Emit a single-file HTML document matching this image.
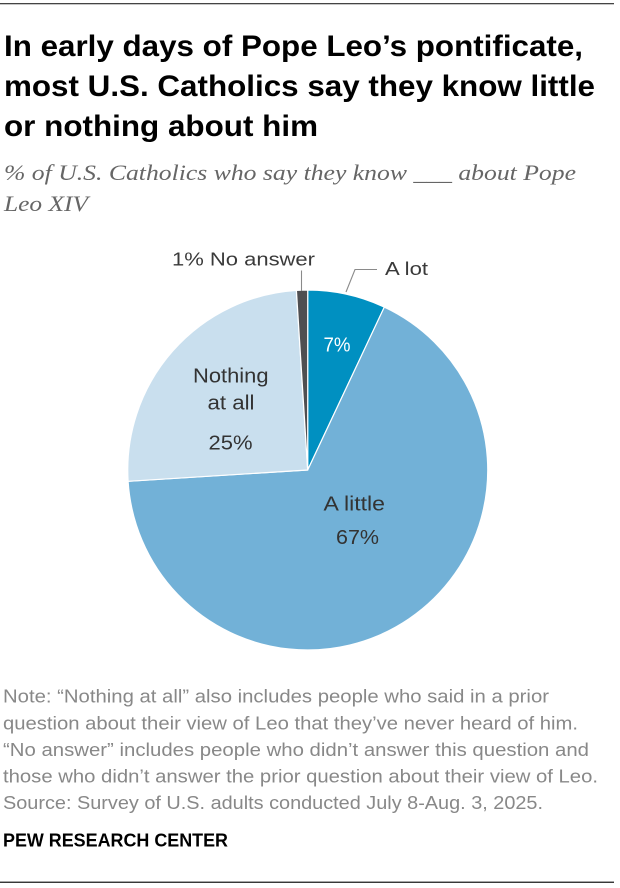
<!DOCTYPE html>
<html>
<head>
<meta charset="utf-8">
<style>
  html, body { margin: 0; padding: 0; background: #ffffff; }
  body { width: 620px; height: 888px; overflow: hidden; }
  svg { display: block; }
  .title { font-family: "Liberation Sans", Arial, sans-serif; font-weight: bold; font-size: 30px; fill: #000; }
  .sub { font-family: "Liberation Serif", "Times New Roman", serif; font-style: italic; font-size: 22px; fill: #666666; }
  .note { font-family: "Liberation Sans", Arial, sans-serif; font-size: 18px; fill: #888888; }
  .pew { font-family: "Liberation Sans", Arial, sans-serif; font-weight: bold; font-size: 18px; fill: #000; }
  .lblo { font-family: "Liberation Sans", Arial, sans-serif; font-size: 18px; fill: #3a3a3a; }
  .lbli { font-family: "Liberation Sans", Arial, sans-serif; font-size: 20px; fill: #333333; }
</style>
</head>
<body>
<svg width="620" height="888" viewBox="0 0 620 888" xmlns="http://www.w3.org/2000/svg">
  <rect x="0" y="0" width="620" height="888" fill="#ffffff"/>
  <!-- top rule -->
  <rect x="0" y="3" width="614" height="1.3" fill="#444444"/>

  <!-- title -->
  <text class="title" x="4" y="56" textLength="579" lengthAdjust="spacingAndGlyphs">In early days of Pope Leo’s pontificate,</text>
  <text class="title" x="4" y="96" textLength="591" lengthAdjust="spacingAndGlyphs">most U.S. Catholics say they know little</text>
  <text class="title" x="4" y="136" textLength="314" lengthAdjust="spacingAndGlyphs">or nothing about him</text>

  <!-- subtitle -->
  <text class="sub" x="4" y="180" textLength="572" lengthAdjust="spacingAndGlyphs">% of U.S. Catholics who say they know ___ about Pope</text>
  <text class="sub" x="4" y="211" textLength="84" lengthAdjust="spacingAndGlyphs">Leo XIV</text>

  <!-- pie -->
  <g stroke="#ffffff" stroke-width="1.2" stroke-linejoin="round">
    <path d="M307.7 470 L307.7 290 A180 180 0 0 1 384.3 307.1 Z" fill="#0090c1"/>
    <path d="M307.7 470 L384.3 307.1 A180 180 0 1 1 128.1 481.3 Z" fill="#72b1d7"/>
    <path d="M307.7 470 L128.1 481.3 A180 180 0 0 1 296.4 290.4 Z" fill="#c9dfee"/>
    <path d="M307.7 470 L296.4 290.4 A180 180 0 0 1 307.7 290 Z" fill="#4f4f51"/>
  </g>

  <!-- leader lines -->
  <polyline points="346,292 355,269.5 377,269.5" fill="none" stroke="#8a8a8a" stroke-width="1.1"/>
  <line x1="301.5" y1="270.5" x2="301.5" y2="291" stroke="#8a8a8a" stroke-width="1.1"/>

  <!-- outside labels -->
  <text class="lblo" x="172" y="265.5" textLength="143" lengthAdjust="spacingAndGlyphs">1% No answer</text>
  <text class="lblo" x="385" y="275" textLength="43" lengthAdjust="spacingAndGlyphs">A lot</text>

  <!-- inside labels -->
  <text class="lbli" x="323.5" y="351.5" textLength="27" lengthAdjust="spacingAndGlyphs" style="fill:#ffffff">7%</text>
  <text class="lbli" x="193" y="382.5" textLength="75.5" lengthAdjust="spacingAndGlyphs">Nothing</text>
  <text class="lbli" x="207.5" y="409.5" textLength="47" lengthAdjust="spacingAndGlyphs">at all</text>
  <text class="lbli" x="208.5" y="449.3" textLength="44" lengthAdjust="spacingAndGlyphs">25%</text>
  <text class="lbli" x="323.5" y="510.7" textLength="61.5" lengthAdjust="spacingAndGlyphs">A little</text>
  <text class="lbli" x="336" y="544" textLength="43" lengthAdjust="spacingAndGlyphs">67%</text>

  <!-- notes -->
  <text class="note" x="3" y="702.3" textLength="546" lengthAdjust="spacingAndGlyphs">Note: “Nothing at all” also includes people who said in a prior</text>
  <text class="note" x="3" y="729.3" textLength="575" lengthAdjust="spacingAndGlyphs">question about their view of Leo that they’ve never heard of him.</text>
  <text class="note" x="3" y="756" textLength="586" lengthAdjust="spacingAndGlyphs">“No answer” includes people who didn’t answer this question and</text>
  <text class="note" x="3" y="782.5" textLength="595" lengthAdjust="spacingAndGlyphs">those who didn’t answer the prior question about their view of Leo.</text>
  <text class="note" x="3" y="809" textLength="540" lengthAdjust="spacingAndGlyphs">Source: Survey of U.S. adults conducted July 8-Aug. 3, 2025.</text>

  <text class="pew" x="3" y="846.7" textLength="225" lengthAdjust="spacingAndGlyphs">PEW RESEARCH CENTER</text>

  <!-- bottom rule -->
  <rect x="0" y="881.6" width="614" height="1.3" fill="#222222"/>
</svg>
</body>
</html>
